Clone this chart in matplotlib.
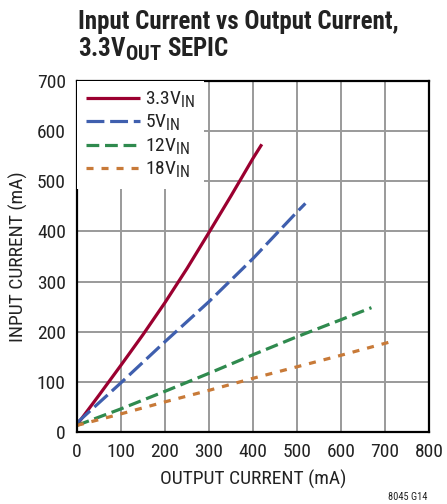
import matplotlib
matplotlib.use("Agg")
import matplotlib.pyplot as plt
from matplotlib import _mathtext

# subscripts in the reference are only a little smaller than the main text
_mathtext.SHRINK_FACTOR = 0.82

FONT = ['Roboto Condensed', 'Liberation Sans Narrow', 'Roboto', 'DejaVu Sans']
plt.rcParams['font.family'] = FONT
plt.rcParams['mathtext.fontset'] = 'custom'
plt.rcParams['mathtext.rm'] = 'Roboto Condensed'
plt.rcParams['mathtext.bf'] = 'Roboto Condensed:bold'

# output current (mA) -> input current (mA)
x_33 = [0, 50, 100, 150, 200, 250, 300, 350, 400, 420]
y_33 = [14, 73, 133, 194, 258, 326, 398, 471, 546, 574]

x_5 = [0, 100, 200, 300, 400, 500, 519]
y_5 = [18, 98, 180, 260, 346, 439, 456]

x_12 = [0, 100, 200, 300, 400, 500, 600, 669]
y_12 = [13, 46, 81, 117, 154, 190, 224, 248]

x_18 = [0, 100, 200, 300, 400, 500, 600, 709]
y_18 = [13, 36, 60, 83, 107, 130, 153, 179]

labels = [r"3.3V$_{\mathrm{IN}}$", r"5V$_{\mathrm{IN}}$", r"12V$_{\mathrm{IN}}$", r"18V$_{\mathrm{IN}}$"]
colors = ["#9b0030", "#3f5fae", "#2f8a4e", "#c87a38"]
ink = "#222222"

fig = plt.figure(figsize=(4.47, 5.04), dpi=100)
ax = fig.add_axes([0.172, 0.143, 0.788, 0.696])

lw = 2.3
ax.plot(x_33, y_33, color=colors[0], lw=lw, label=labels[0], solid_capstyle='butt')
ax.plot(x_5, y_5, color=colors[1], lw=lw, label=labels[1], dashes=(5.6, 1.8))
ax.plot(x_12, y_12, color=colors[2], lw=lw, label=labels[2], dashes=(4.0, 1.8))
ax.plot(x_18, y_18, color=colors[3], lw=lw, label=labels[3], dashes=(2.2, 2.5))

ax.set_xlim(0, 800)
ax.set_ylim(0, 700)
ax.set_xticks(range(0, 801, 100))
ax.set_yticks(range(0, 701, 100))
ax.grid(True, color="#9a9a9a", lw=1.4)
ax.set_axisbelow(True)
ax.tick_params(length=0, labelsize=14, pad=8, labelcolor=ink)
for s in ax.spines.values():
    s.set_linewidth(1.6)

ax.set_xlabel("OUTPUT CURRENT (mA)", fontsize=14, labelpad=6, color=ink)
ax.set_ylabel("INPUT CURRENT (mA)", fontsize=14, labelpad=6, color=ink)

leg = ax.legend(loc="upper left", fontsize=14, handlelength=2.8, handletextpad=0.25,
                labelspacing=0.15, borderaxespad=0.0, borderpad=0.45,
                frameon=True, fancybox=False, framealpha=1.0,
                facecolor="white", edgecolor="none")
for t in leg.get_texts():
    t.set_color(ink)

fig.text(0.175, 0.9425, "Input Current vs Output Current,", fontsize=18, fontweight="bold",
         color=ink, va="baseline")
fig.text(0.175, 0.887, r"3.3V$_{\mathbf{OUT}}$ SEPIC", fontsize=18, fontweight="bold",
         color=ink, va="baseline")
fig.text(0.912, 0.008, "8045 G14", fontsize=7.5, ha="center", color=ink)

fig.savefig("out.png", dpi=100)
